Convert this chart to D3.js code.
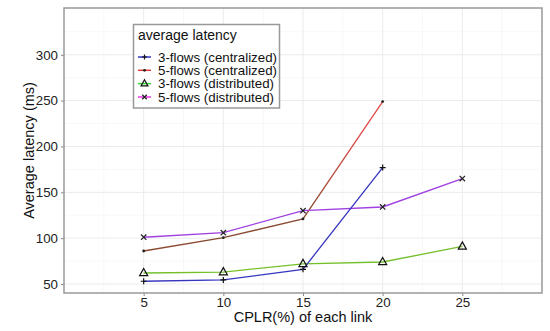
<!DOCTYPE html>
<html><head><meta charset="utf-8">
<script src="https://cdn.jsdelivr.net/npm/d3@7"></script>
<style>body{margin:0;background:#fff}svg{display:block;font-family:"Liberation Sans",Arial,sans-serif}</style>
</head><body><svg id="c" width="550" height="331"></svg>
<script>
const xValues = [5, 10, 15, 20, 25];
const c3 = [53, 54.5, 66, 177];
const c5 = [86, 100.5, 121, 249];
const d3f = [62, 63, 72, 74, 91];
const d5 = [101, 106, 130, 134, 165];
const xTicks = [5, 10, 15, 20, 25];
const yTicks = [50, 100, 150, 200, 250, 300];
const seriesNames = ["3-flows (centralized)", "5-flows (centralized)", "3-flows (distributed)", "5-flows (distributed)"];

const svg = d3.select("#c");
const L = 64, T = 8, R = 542, B = 293;
const x = d3.scaleLinear().domain([0, 30]).range([L, R]);
const y = d3.scaleLinear().domain([40.2, 351]).range([B, T]);

const defs = svg.append("defs");
const g = defs.append("linearGradient").attr("id", "g5").attr("gradientUnits", "userSpaceOnUse")
  .attr("x1", 0).attr("x2", 0).attr("y1", y(130)).attr("y2", y(210));
g.append("stop").attr("offset", 0).attr("stop-color", "#8a4a30");
g.append("stop").attr("offset", 1).attr("stop-color", "#e04848");

// grid
const minorX = d3.range(2.5, 30, 5);
const minorY = d3.range(75, 351, 50);
svg.append("g").selectAll("line").data(minorX).join("line")
  .attr("x1", d => x(d)).attr("x2", d => x(d)).attr("y1", T).attr("y2", B)
  .attr("stroke", "#f4f4f4").attr("stroke-width", 0.6);
svg.append("g").selectAll("line").data(minorY).join("line")
  .attr("x1", L).attr("x2", R).attr("y1", d => y(d)).attr("y2", d => y(d))
  .attr("stroke", "#f4f4f4").attr("stroke-width", 0.6);
svg.append("g").selectAll("line").data(xTicks).join("line")
  .attr("x1", d => x(d)).attr("x2", d => x(d)).attr("y1", T).attr("y2", B)
  .attr("stroke", "#ebebeb").attr("stroke-width", 1);
svg.append("g").selectAll("line").data(yTicks).join("line")
  .attr("x1", L).attr("x2", R).attr("y1", d => y(d)).attr("y2", d => y(d))
  .attr("stroke", "#ebebeb").attr("stroke-width", 1);

// axes
const ya = svg.append("g").attr("transform", `translate(${L},0)`)
  .call(d3.axisLeft(y).tickValues(yTicks).tickSize(3).tickPadding(3));
const xa = svg.append("g").attr("transform", `translate(0,${B})`)
  .call(d3.axisBottom(x).tickValues(xTicks).tickSize(3).tickPadding(2));
[ya, xa].forEach(a => {
  a.select(".domain").remove();
  a.selectAll("line").attr("stroke", "#888");
  a.selectAll("text").attr("font-size", 13.3).attr("fill", "#222").attr("font-family", "Liberation Sans, Arial, sans-serif");
});

svg.append("rect").attr("x", L).attr("y", T).attr("width", R - L).attr("height", B - T)
  .attr("fill", "none").attr("stroke", "#999").attr("stroke-width", 1.5);

const line = d3.line().x(d => x(d[0])).y(d => y(d[1]));
const series = [
  {vals: c3, color: "#3535c0", sym: "plus", lcolor: "#3333cc"},
  {vals: c5, color: "url(#g5)", sym: "dot", lcolor: "#dd3b3b"},
  {vals: d3f, color: "#74c02a", sym: "tri", lcolor: "#33dd33"},
  {vals: d5, color: "#a040e0", sym: "cross", lcolor: "#ee33ee"}
];
[1, 3, 2, 0].forEach(i => {
  const s = series[i];
  const pts = s.vals.map((v, j) => [xValues[j], v]);
  svg.append("path").attr("d", line(pts)).attr("fill", "none")
    .attr("stroke", s.color).attr("stroke-width", 1.3);
});

function marker(gp, sym, cx, cy, sc) {
  sc = sc || 1;
  if (sym === "plus") {
    gp.append("path").attr("d", `M${cx-3*sc},${cy}H${cx+3*sc}M${cx},${cy-3*sc}V${cy+3*sc}`)
      .attr("stroke", "#111").attr("stroke-width", 1.2);
  } else if (sym === "dot") {
    gp.append("circle").attr("cx", cx).attr("cy", cy).attr("r", 1.4).attr("fill", "#222");
  } else if (sym === "tri") {
    const h = 4.5 * sc;
    gp.append("path").attr("d", `M${cx},${cy-h}L${cx+h*0.9},${cy+h*0.6}L${cx-h*0.9},${cy+h*0.6}Z`)
      .attr("fill", "none").attr("stroke", "#111").attr("stroke-width", 1.2);
  } else if (sym === "cross") {
    const r = 2.7 * sc;
    gp.append("path").attr("d", `M${cx-r},${cy-r}L${cx+r},${cy+r}M${cx+r},${cy-r}L${cx-r},${cy+r}`)
      .attr("stroke", "#222").attr("stroke-width", 1.2);
  }
}
const mg = svg.append("g");
series.forEach(s => s.vals.forEach((v, j) => marker(mg, s.sym, x(xValues[j]), y(v))));

// legend
const lg = svg.append("g");
lg.append("rect").attr("x", 133.5).attr("y", 24.5).attr("width", 146).attr("height", 83.5)
  .attr("fill", "#fff").attr("stroke", "#999").attr("stroke-width", 1.5);
lg.append("text").attr("x", 138).attr("y", 40).attr("font-size", 14).attr("fill", "#111").text("average latency");
const ly = [57, 70.3, 83.6, 97];
series.forEach((s, i) => {
  lg.append("line").attr("x1", 138).attr("x2", 151).attr("y1", ly[i]).attr("y2", ly[i])
    .attr("stroke", s.lcolor).attr("stroke-width", 1.5);
  marker(lg, s.sym, 144.5, ly[i], 0.85);
  lg.append("text").attr("x", 158).attr("y", ly[i] + 4.7).attr("font-size", 13.3).attr("fill", "#111").text(seriesNames[i]);
});

svg.append("text").attr("x", 303).attr("y", 322).attr("text-anchor", "middle")
  .attr("font-size", 14.5).attr("fill", "#111").text("CPLR(%) of each link");
svg.append("text").attr("transform", `translate(34,${(T + B) / 2}) rotate(-90)`).attr("text-anchor", "middle")
  .attr("font-size", 14.5).attr("fill", "#111").text("Average latency (ms)");
</script></body></html>
